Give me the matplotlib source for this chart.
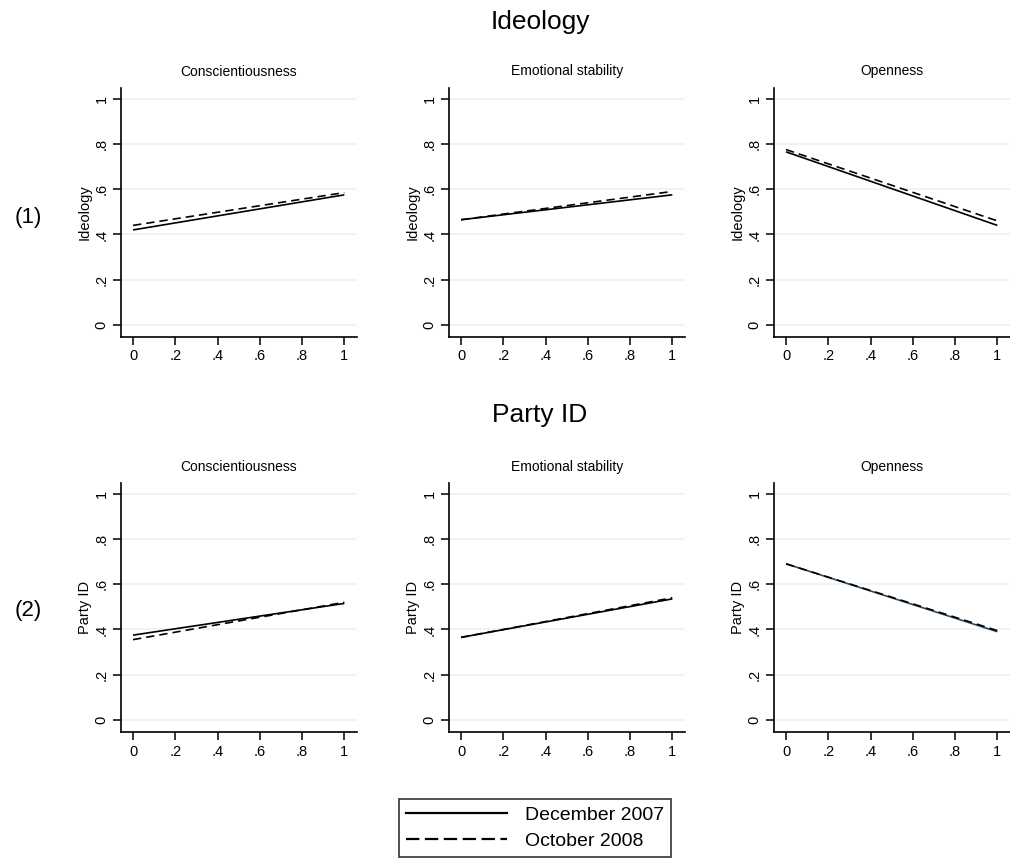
import matplotlib
matplotlib.use('Agg')
import numpy as np
import matplotlib.pyplot as plt
from matplotlib.lines import Line2D

plt.rcParams['font.family'] = ['Liberation Sans', 'DejaVu Sans']

# predicted values at trait = 0 and trait = 1
x_trait = [0, 1]
traits = ['Conscientiousness', 'Emotional stability', 'Openness']
outcomes = ['Ideology', 'Party ID']
row_tags = ['(1)', '(2)']

dec2007 = {
    'Ideology': [[0.42, 0.575], [0.465, 0.575], [0.765, 0.44]],
    'Party ID': [[0.375, 0.515], [0.365, 0.535], [0.69, 0.39]],
}
oct2008 = {
    'Ideology': [[0.44, 0.585], [0.465, 0.59], [0.775, 0.46]],
    'Party ID': [[0.355, 0.52], [0.365, 0.54], [0.69, 0.395]],
}

yticks = [0, 0.2, 0.4, 0.6, 0.8, 1]
ytick_labels = ['0', '.2', '.4', '.6', '.8', '1']
xticks = [0, 0.2, 0.4, 0.6, 0.8, 1]
xtick_labels = ['0', '.2', '.4', '.6', '.8', '1']

W, H = 1010, 863
fig = plt.figure(figsize=(W/100, H/100), dpi=100)

col_left = [121, 449, 774]
row_top = [88, 483]
ax_w, ax_h = 236, 249
grid_col = '#eaf2f3'

for r, outc in enumerate(outcomes):
    for c, tr in enumerate(traits):
        ax = fig.add_axes([col_left[c]/W, 1-(row_top[r]+ax_h)/H, ax_w/W, ax_h/H])
        solid_col = '#2b4a66' if (r == 1 and c == 2) else 'black'
        ax.plot(x_trait, dec2007[outc][c], color=solid_col, lw=1.2, solid_capstyle='butt')
        ax.plot(x_trait, oct2008[outc][c], color='black', lw=1.2, ls=(0, (5, 3)))
        ax.set_xlim(-0.057, 1.06)
        ax.set_ylim(-0.053, 1.047)
        ax.set_yticks(yticks)
        ax.set_yticklabels(ytick_labels)
        ax.set_xticks(xticks)
        ax.set_xticklabels(xtick_labels)
        ax.grid(axis='y', color=grid_col, lw=1.2)
        ax.set_axisbelow(True)
        for s in ['top', 'right']:
            ax.spines[s].set_visible(False)
        for s in ['left', 'bottom']:
            ax.spines[s].set_linewidth(1.2)
        ax.tick_params(length=6, width=1.1, labelsize=10.5, pad=3)
        for lbl in ax.get_yticklabels():
            lbl.set_rotation(90)
            lbl.set_va('center')
        ax.set_ylabel(outc, fontsize=10.5, labelpad=2)
        ax.set_title(tr, fontsize=10, pad=9)

fig.text(540/W, 1-22/H, 'Ideology', ha='center', va='center', fontsize=19)
fig.text(540/W, 1-415/H, 'Party ID', ha='center', va='center', fontsize=19)
fig.text(28/W, 1-217/H, row_tags[0], ha='center', va='center', fontsize=16)
fig.text(28/W, 1-610/H, row_tags[1], ha='center', va='center', fontsize=16)

handles = [Line2D([], [], color='black', lw=1.6),
           Line2D([], [], color='black', lw=1.6, ls=(0, (6, 2.5)))]
leg = fig.legend(handles, ['December 2007', 'October 2008'], loc='center',
                 bbox_to_anchor=(535/W, 1-828/H), fontsize=14, frameon=True,
                 fancybox=False, edgecolor='black', handlelength=5.2,
                 borderpad=0.35, labelspacing=0.45, handletextpad=0.9,
                 borderaxespad=0)
leg.get_frame().set_linewidth(1.2)

fig.savefig('out.png', dpi=100, facecolor='white')
